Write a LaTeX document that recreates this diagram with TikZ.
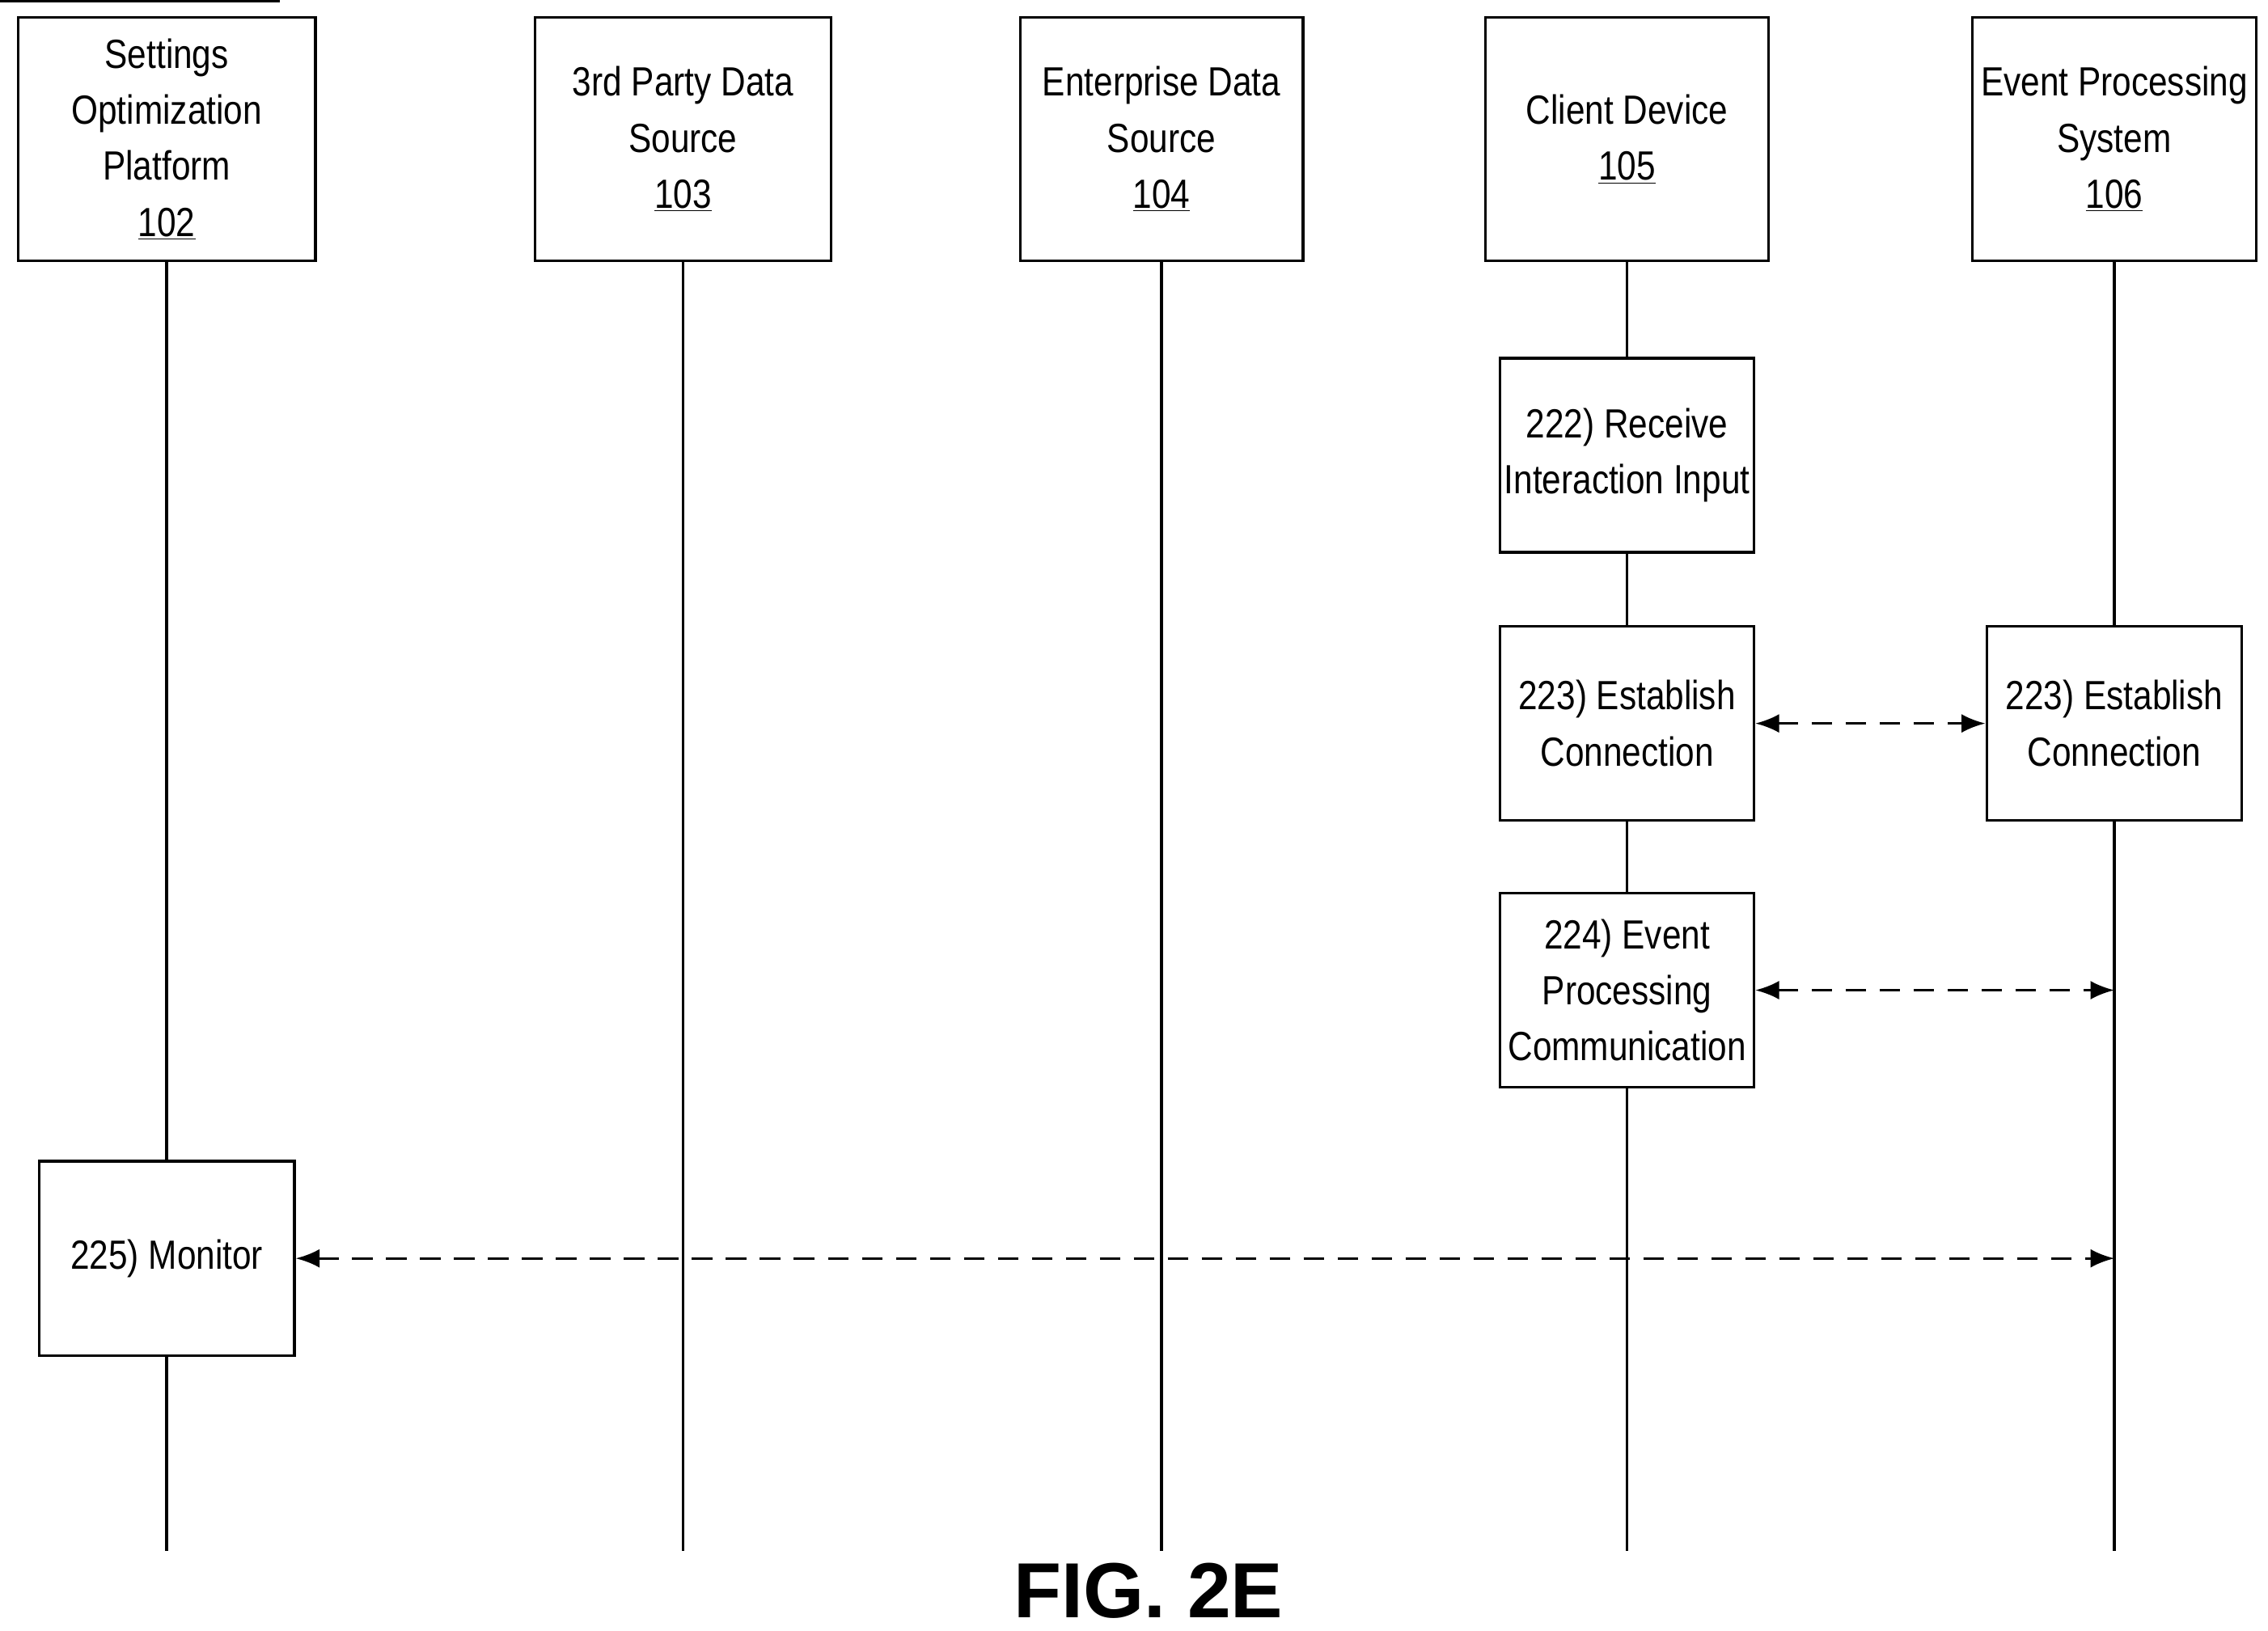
\documentclass[tikz,border=0pt]{standalone}
\usepackage{fontspec}
\setmainfont{Liberation Sans}[FakeStretch=0.84]
\newfontfamily\figfont{Liberation Sans}
\usetikzlibrary{arrows.meta}
\begin{document}
\begin{tikzpicture}[x=0.03cm,y=-0.03cm,
  bx/.style={draw,line width=1.6pt,align=center,font=\fontsize{24}{33}\selectfont,inner sep=0pt},
  ll/.style={line width=1.6pt},
  da/.style={line width=1.6pt,dash pattern=on 12pt off 8pt,{Latex[length=14pt,width=11pt]}-{Latex[length=14pt,width=11pt]}}]
\useasboundingbox (0,0) rectangle (1564,1125);
\node[bx,minimum width=205\pgflinewidth] at (0,0) {};
\node[bx,minimum width=6.15cm,minimum height=5.04cm] (a) at (115,96) {Settings\\Optimization\\Platform\\\underline{102}};
\node[bx,minimum width=6.12cm,minimum height=5.04cm] (b) at (471,96) {3rd Party Data\\Source\\\underline{103}};
\node[bx,minimum width=5.85cm,minimum height=5.04cm] (c) at (801,96) {Enterprise Data\\Source\\\underline{104}};
\node[bx,minimum width=5.85cm,minimum height=5.04cm] (d) at (1122,96) {Client Device\\\underline{105}};
\node[bx,minimum width=5.88cm,minimum height=5.04cm] (e) at (1458,96) {Event Processing\\System\\\underline{106}};
\coordinate (aend) at (115,1070);
\coordinate (bend) at (471,1070);
\coordinate (cend) at (801,1070);
\coordinate (dend) at (1122,1070);
\coordinate (eend) at (1458,1070);
\draw[ll] (a.south) -- (aend);
\draw[ll] (b.south) -- (bend);
\draw[ll] (c.south) -- (cend);
\draw[ll] (d.south) -- (dend);
\draw[ll] (e.south) -- (eend);
\node[bx,fill=white,minimum width=5.25cm,minimum height=4.02cm] (s222) at (1122,314) {222) Receive\\Interaction Input};
\node[bx,fill=white,minimum width=5.25cm,minimum height=4.02cm] (s223a) at (1122,499) {223) Establish\\Connection};
\node[bx,fill=white,minimum width=5.28cm,minimum height=4.02cm] (s223b) at (1458,499) {223) Establish\\Connection};
\node[bx,fill=white,minimum width=5.25cm,minimum height=4.02cm] (s224) at (1122,683) {224) Event\\Processing\\Communication};
\node[bx,fill=white,minimum width=5.28cm,minimum height=4.02cm] (s225) at (115,868) {225) Monitor};
\coordinate (p224) at (1458,683);
\coordinate (p225) at (1458,868);
\draw[da] (s223a.east) -- (s223b.west);
\draw[da] (s224.east) -- (p224);
\draw[da] (s225.east) -- (p225);
\node[font=\figfont\bfseries\fontsize{46}{50}\selectfont] (fig) at (792,1097) {FIG. 2E};
\end{tikzpicture}
\end{document}
